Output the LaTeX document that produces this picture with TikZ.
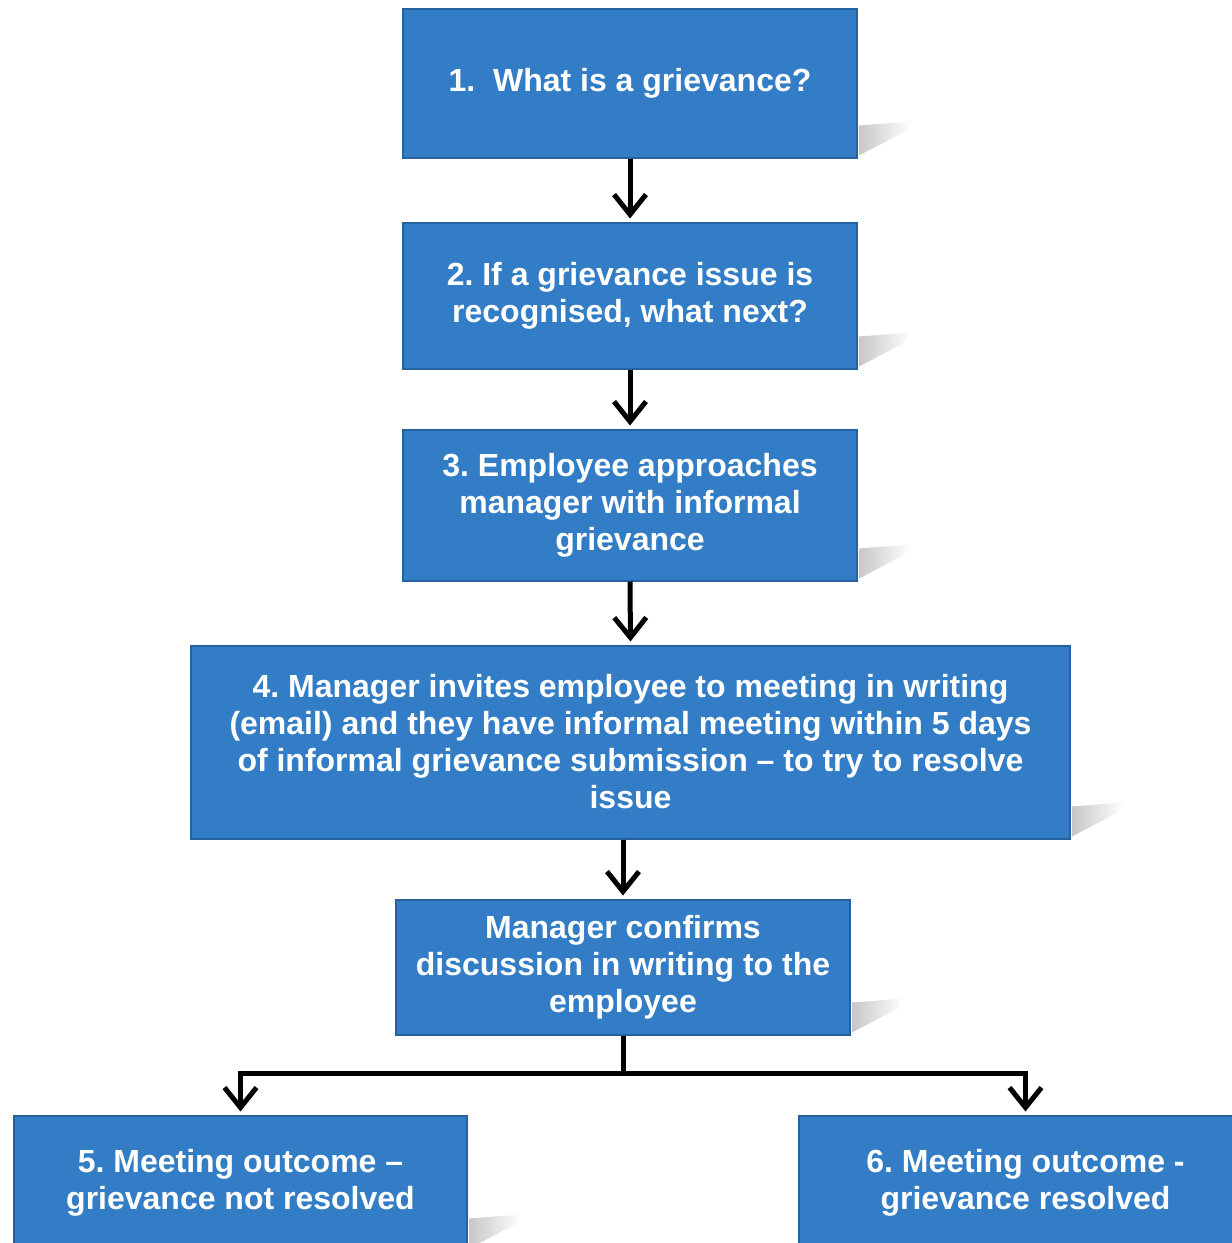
\documentclass[tikz,border=0pt]{standalone}
\usepackage{fontspec}
\setmainfont{Liberation Sans}
\usetikzlibrary{arrows.meta}
\definecolor{stepblue}{RGB}{50,125,198}
\definecolor{stepedge}{RGB}{38,98,160}

\begin{document}
\frenchspacing
\begin{tikzpicture}[x=1pt,y=-1pt,
  stepbox/.style={fill=stepblue,draw=stepedge,line width=2pt,text=white,
    font=\fontsize{32}{37}\selectfont\bfseries,align=center,inner sep=0pt},
  flow/.style={line width=5pt,shorten >=3pt,-{Straight Barb[length=20pt,width=32pt]}},
  shadowcast/.style={left color=black!22,right color=white,draw=none}]
  \useasboundingbox (0,0) rectangle (1232,1243);

  \node[stepbox,minimum width=454,minimum height=149] (q1) at (630,83)
    {1.\ \ What is a grievance?};
  \node[stepbox,minimum width=454,minimum height=146] (q2) at (630,295.5)
    {2. If a grievance issue is\\recognised, what next?};
  \node[stepbox,minimum width=454,minimum height=151] (q3) at (630,505)
    {3. Employee approaches\\manager with informal\\grievance};
  \node[stepbox,minimum width=879,minimum height=193] (q4) at (630.5,742)
    {4. Manager invites employee to meeting in writing\\(email) and they have informal meeting within 5 days\\of informal grievance submission – to try to resolve\\issue};
  \node[stepbox,minimum width=454,minimum height=135] (confirm) at (623,967)
    {Manager confirms\\discussion in writing to the\\employee};
  \node[stepbox,minimum width=453,minimum height=135] (notres) at (240.5,1183)
    {5. Meeting outcome –\\grievance not resolved};
  \node[stepbox,minimum width=453,minimum height=135] (res) at (1025.5,1183)
    {6. Meeting outcome -\\grievance resolved};

  % soft shadows at the lower right corners
  \foreach \n in {q1,q2,q3,q4,confirm,notres,res}
    \shade[shadowcast] ([shift={(1,-3)}]\n.south east) -- ++(0,-30) -- ++(52,-4) -- ++(-6,10) -- cycle;

  \draw[flow] (q1.south) -- (q2.north);
  \draw[flow] (q2.south) -- (q3.north);
  \draw[flow] (q3.south) -- (q4.north);
  \draw[flow] (q4.south -| confirm) -- (confirm.north);

  \coordinate (split) at (623,1073);
  \draw[line width=5pt] (confirm.south) -- (split);
  \draw[flow] (split) -| (notres.north);
  \draw[flow] (split) -| (res.north);
\end{tikzpicture}
\end{document}
